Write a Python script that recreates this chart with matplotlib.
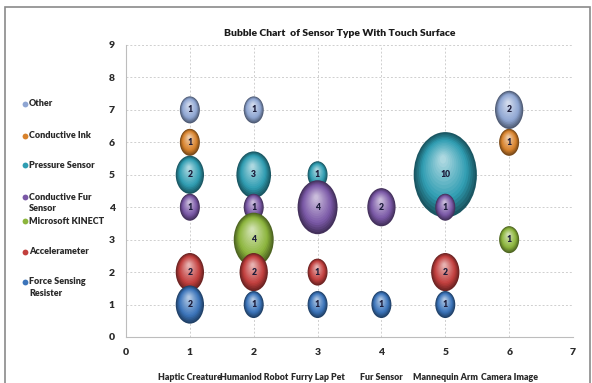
import numpy as np
import matplotlib
matplotlib.use('Agg')
import matplotlib.pyplot as plt
from matplotlib.patches import Ellipse, Rectangle
from matplotlib.colors import to_rgb

plt.rcParams['font.family'] = ['Lato', 'DejaVu Sans']
plt.rcParams['font.weight'] = 'heavy'

# series: name, colour, x positions, y positions, counts
series_names = ['Other', 'Conductive Ink', 'Pressure Sensor', 'Conductive Fur\nSensor',
                'Microsoft KINECT', 'Accelerameter', 'Force Sensing\nResister']
series_colors = ['#8fa6d3', '#d8822c', '#2f9db2', '#7a58a6', '#8cb53c', '#c23f3d', '#3b74ba']
other_x, other_y, other_n = [1, 2, 6], [7, 7, 7], [1, 1, 2]
ink_x, ink_y, ink_n = [1, 6], [6, 6], [1, 1]
pressure_x, pressure_y, pressure_n = [1, 2, 3, 5], [5, 5, 5, 5], [2, 3, 1, 10]
fur_x, fur_y, fur_n = [1, 2, 3, 4, 5], [4, 4, 4, 4, 4], [1, 1, 4, 2, 1]
kinect_x, kinect_y, kinect_n = [2, 6], [3, 3], [4, 1]
accel_x, accel_y, accel_n = [1, 2, 3, 5], [2, 2, 2, 2], [2, 2, 1, 2]
fsr_x, fsr_y, fsr_n = [1, 2, 3, 4, 5], [1, 1, 1, 1, 1], [2, 1, 1, 1, 1]
categories = ['Haptic Creature', 'Humaniod Robot', 'Furry Lap Pet', 'Fur Sensor',
              'Mannequin Arm', 'Camera Image']

data = [(other_x, other_y, other_n), (ink_x, ink_y, ink_n),
        (pressure_x, pressure_y, pressure_n), (fur_x, fur_y, fur_n),
        (kinect_x, kinect_y, kinect_n), (accel_x, accel_y, accel_n),
        (fsr_x, fsr_y, fsr_n)]

W, H = 592, 383
fig = plt.figure(figsize=(W / 100, H / 100), dpi=100)
fig.patch.set_facecolor('white')
fig.patches.append(Rectangle((5 / W, -0.05), 585 / W, 1.05 - 7 / H, transform=fig.transFigure,
                             fill=False, edgecolor='#8a8a8a', linewidth=1.2))

ax = fig.add_axes([126 / W, 1 - 337 / H, 447 / W, 292 / H])
ax.set_xlim(0, 7)
ax.set_ylim(0, 9)
ax.set_xticks(range(8))
ax.set_yticks(range(10))
ax.grid(True, linestyle=(0, (2, 2)), color='#cfcfcf', linewidth=0.7)
ax.set_axisbelow(True)
for s in ['top', 'right']:
    ax.spines[s].set_visible(False)
for s in ['left', 'bottom']:
    ax.spines[s].set_color('#bdbdbd')
ax.tick_params(length=0, labelsize=7.5, colors='#2a2a2a', pad=8)

# bubble size: area proportional to count
w1, h1 = 0.313, 0.832


def bubble(x, y, n, color, z):
    base = np.array(to_rgb(color))
    w, h = w1 * np.sqrt(n), h1 * np.sqrt(n)
    steps = 16
    for i in range(steps):
        t = i / (steps - 1)
        s = 1 - 0.9 * t
        if t < 0.3:
            c = base * (0.55 + 0.45 * t / 0.3)
        else:
            c = base + (1 - base) * 0.6 * (t - 0.3) / 0.7
        cy = y + (1 - s) * h * 0.2
        cx = x - (1 - s) * w * 0.04
        ax.add_patch(Ellipse((cx, cy), w * s, h * s, facecolor=np.clip(c, 0, 1),
                             edgecolor='none', zorder=z + i * 0.001))
    ax.text(x, y, str(n), ha='center', va='center', fontsize=6.2,
            color='#1c1c3a', zorder=z + 0.05)


for k, ((xs, ys, ns), col) in enumerate(zip(data, series_colors)):
    for j, (x, y, n) in enumerate(zip(xs, ys, ns)):
        bubble(x, y, n, col, 2 + k * 0.1 + j * 0.01)

# category names under the x axis
for i, cat in enumerate(categories):
    ax.text(i + 1, -1.26, cat, ha='center', va='center', fontsize=6.4, color='#2a2a2a')

fig.text(340 / W, 1 - 33 / H, 'Bubble Chart  of Sensor Type With Touch Surface',
         ha='center', va='center', fontsize=7.5, color='#1a1a1a')

# legend on the left
legend_y = [104, 136, 165, 197, 221, 252, 282]
for name, col, yp in zip(series_names, series_colors, legend_y):
    fig.add_artist(plt.Line2D([25 / W], [1 - yp / H], marker='o', markersize=4.2,
                              color=col, markeredgecolor='none', transform=fig.transFigure))
    for li, line in enumerate(name.split('\n')):
        fig.text(29 / W, 1 - (yp + li * 12) / H, line, ha='left', va='center',
                 fontsize=6.5, color='#2a2a2a')

fig.savefig('out.png', dpi=100)
